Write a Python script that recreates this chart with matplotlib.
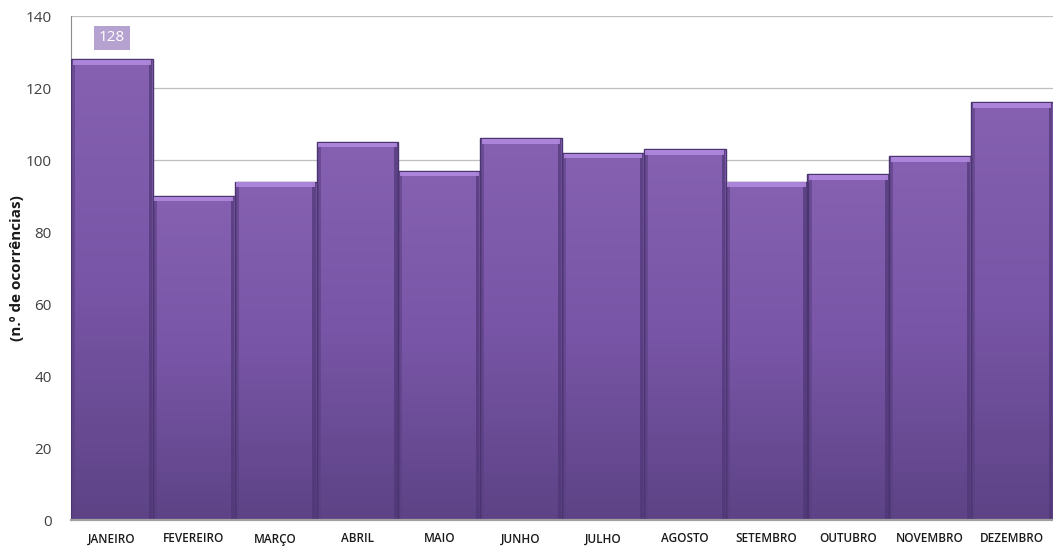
import numpy as np
import matplotlib
matplotlib.use("Agg")
import matplotlib.pyplot as plt
from matplotlib.colors import LinearSegmentedColormap

months = ["JANEIRO", "FEVEREIRO", "MARÇO", "ABRIL", "MAIO", "JUNHO",
          "JULHO", "AGOSTO", "SETEMBRO", "OUTUBRO", "NOVEMBRO", "DEZEMBRO"]
ocorrencias = [128, 90, 94, 105, 97, 106, 102, 103, 94, 96, 101, 116]
y_ticks = [0, 20, 40, 60, 80, 100, 120, 140]
highlight_month = "JANEIRO"

plt.rcParams['font.family'] = ['Open Sans', 'DejaVu Sans']

fig = plt.figure(figsize=(10.53, 5.49), dpi=100)
ax = fig.add_axes([71 / 1053, 1 - 520 / 549, 1 - 71 / 1053, (520 - 16) / 549])

x = np.arange(len(months))

for t in y_ticks[1:]:
    ax.axhline(t, color="#bfbfbf", lw=0.9, zorder=0)

bars = ax.bar(x, ocorrencias, width=1.0, color="none",
              edgecolor="#4b3570", linewidth=1.0, zorder=3)

cmap = LinearSegmentedColormap.from_list("roxo", ["#5d4386", "#7855a6", "#8661b2"])
grad = np.linspace(0, 1, 256).reshape(-1, 1)
for rect in bars:
    x0 = rect.get_x()
    w = rect.get_width()
    h = rect.get_height()
    im = ax.imshow(grad, extent=(x0, x0 + w, 0, h), origin="lower",
                   cmap=cmap, aspect="auto", zorder=2, interpolation="bicubic")
    im.set_clip_path(rect)

# bevelled edges: darker sides and a light band along the top of each bar
vals = np.array(ocorrencias)
ax.bar(x - 0.47, vals, width=0.04, color="#5a3f82", alpha=0.6, zorder=2.5, linewidth=0)
ax.bar(x + 0.47, vals, width=0.04, color="#4e3675", alpha=0.7, zorder=2.5, linewidth=0)
ax.bar(x, 1.3, bottom=vals - 1.5, width=0.96,
       color="#b189df", alpha=0.9, zorder=4, linewidth=0)

ax.set_xlim(-0.5, len(months) - 0.5)
ax.set_ylim(0, 140)

# value label above the highlighted month
i = months.index(highlight_month)
ax.annotate(str(ocorrencias[i]), xy=(x[i], ocorrencias[i]), xytext=(0, 10),
            textcoords="offset points", ha="center", va="bottom",
            color="white", fontsize=11,
            bbox=dict(boxstyle="square,pad=0.3", fc="#b5a2d0", ec="none"))

ax.set_xticks(x)
ax.set_xticklabels(months, fontsize=8.5, color="#1a1a1a", fontweight="semibold")
ax.set_yticks(y_ticks)
ax.tick_params(axis="y", labelsize=11, colors="#404040", length=0, pad=14)
ax.tick_params(axis="x", length=0, pad=9)

for s in ["top", "right"]:
    ax.spines[s].set_visible(False)
ax.spines["left"].set_color("#8c8c8c")
ax.spines["bottom"].set_color("#a0a0a0")
ax.spines["bottom"].set_linewidth(1.6)
ax.spines["bottom"].set_zorder(5)

ax.set_ylabel("(n.º de ocorrências)", fontsize=11, fontweight="bold",
              color="#1a1a1a", va="center")
ax.yaxis.set_label_coords(-0.055, 0.5)

fig.savefig("out.png", dpi=100)
